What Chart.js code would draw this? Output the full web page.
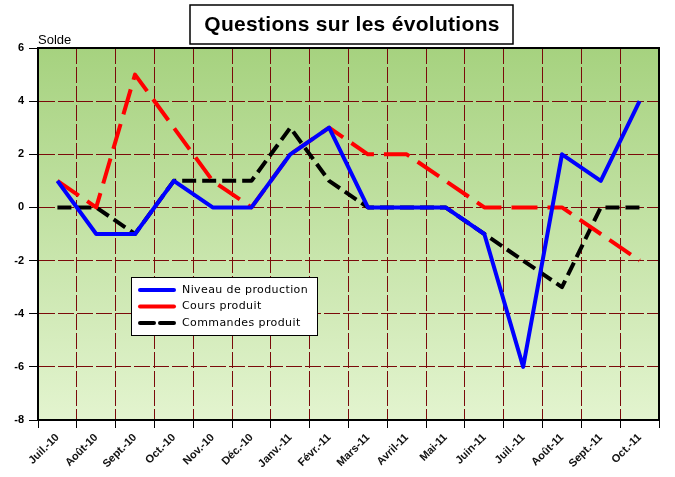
<!DOCTYPE html>
<html>
<head>
<meta charset="utf-8">
<script src="https://cdn.jsdelivr.net/npm/chart.js@4"></script>
<style>
  html, body { margin: 0; padding: 0; background: #fff; }
  #wrap { width: 675px; height: 477px; }
</style>
</head>
<body>
<div id="wrap"><canvas id="chart" width="675" height="477"></canvas></div>
<script>
// --- data ---
const months = ['Juil.-10', 'Août-10', 'Sept.-10', 'Oct.-10', 'Nov.-10', 'Déc.-10',
  'Janv.-11', 'Févr.-11', 'Mars-11', 'Avril-11', 'Mai-11', 'Juin-11',
  'Juil.-11', 'Août-11', 'Sept.-11', 'Oct.-11'];
const niveauProduction = [1, -1, -1, 1, 0, 0, 2, 3, 0, 0, 0, -1, -6, 2, 1, 4];
const coursProduit     = [1, 0, 5, 3, 1, 0, 2, 3, 2, 2, 1, 0, 0, 0, -1, -2];
const commandesProduit = [0, 0, -1, 1, 1, 1, 3, 1, 0, 0, 0, -1, -2, -3, 0, 0];
const yMin = -8, yMax = 6, yStep = 2;

const titleText = 'Questions sur les évolutions';
const yLabel = 'Solde';

// background gradient, frame, title box, "Solde" and the boxed legend
const decor = {
  id: 'decor',
  beforeDraw(chart) {
    const { ctx, chartArea: a } = chart;
    const g = ctx.createLinearGradient(0, a.top, 0, a.bottom);
    g.addColorStop(0, '#a6d27f');
    g.addColorStop(1, '#e3f4cf');
    ctx.save();
    ctx.fillStyle = g;
    ctx.fillRect(a.left, a.top, a.right - a.left, a.bottom - a.top);
    ctx.restore();
  },
  afterDraw(chart) {
    const { ctx, chartArea: a } = chart;
    ctx.save();
    // frame round the plot
    ctx.strokeStyle = '#000';
    ctx.lineWidth = 2;
    ctx.strokeRect(a.left, a.top, a.right - a.left, a.bottom - a.top);

    // title box
    ctx.fillStyle = '#fff';
    ctx.fillRect(190, 5, 323, 39);
    ctx.lineWidth = 1.5;
    ctx.strokeRect(190, 5, 323, 39);
    ctx.fillStyle = '#000';
    ctx.font = 'bold 21px "Liberation Sans", Arial, sans-serif';
    ctx.letterSpacing = '0.3px';
    ctx.textAlign = 'center';
    ctx.textBaseline = 'middle';
    ctx.fillText(titleText, 352, 25);
    ctx.letterSpacing = '0px';

    // axis name
    ctx.font = '13px "Liberation Sans", Arial, sans-serif';
    ctx.textAlign = 'left';
    ctx.fillText(yLabel, 38, 40);

    // legend
    const lx = 131, ly = 277, lw = 186, lh = 58;
    ctx.fillStyle = '#fff';
    ctx.fillRect(lx, ly, lw, lh);
    ctx.strokeStyle = '#000';
    ctx.lineWidth = 1;
    ctx.strokeRect(lx + 0.5, ly + 0.5, lw, lh);
    ctx.font = '11px "DejaVu Sans", sans-serif';
    ctx.letterSpacing = '0.4px';
    ctx.textBaseline = 'middle';
    chart.data.datasets.forEach((ds, i) => {
      const y = ly + 13 + i * 16.5;
      ctx.strokeStyle = ds.borderColor;
      ctx.lineWidth = 4;
      ctx.lineCap = 'round';
      ctx.setLineDash(i === 2 ? [14, 6] : []);
      ctx.beginPath();
      ctx.moveTo(140, y);
      ctx.lineTo(174, y);
      ctx.stroke();
      ctx.setLineDash([]);
      ctx.fillStyle = '#000';
      ctx.fillText(ds.label, 182, y);
    });
    ctx.restore();
  }
};

const gridRed = '#7a0a0a';

new Chart(document.getElementById('chart'), {
  type: 'line',
  data: {
    labels: months,
    datasets: [
      { label: 'Niveau de production', data: niveauProduction,
        borderColor: '#0000ff', borderWidth: 4 },
      { label: 'Cours produit', data: coursProduit,
        borderColor: '#ff0000', borderWidth: 4, borderDash: [26, 10] },
      { label: 'Commandes produit', data: commandesProduit,
        borderColor: '#000000', borderWidth: 4, borderDash: [14, 6] }
    ]
  },
  options: {
    responsive: false,
    animation: false,
    layout: { padding: { top: 48, right: 16, bottom: 0, left: 0 } },
    elements: {
      point: { radius: 0 },
      line: { tension: 0, borderCapStyle: 'butt', borderJoinStyle: 'round' }
    },
    plugins: {
      legend: { display: false },
      title: { display: false },
      tooltip: { enabled: false }
    },
    scales: {
      x: {
        offset: true,
        afterFit: s => { s.height = 57; },
        grid: { offset: true, color: gridRed, lineWidth: 1, tickLength: 8, tickColor: '#000' },
        border: { display: true, color: '#000', width: 2, dash: [16, 3] },
        ticks: {
          minRotation: 45, maxRotation: 45, padding: 3,
          color: '#111',
          font: { family: '"Liberation Sans", Arial, sans-serif', size: 11, weight: 'bold' }
        }
      },
      y: {
        min: yMin, max: yMax,
        afterFit: s => { s.width = 38; },
        grid: { color: gridRed, lineWidth: 1, tickLength: 9, tickColor: '#000' },
        border: { display: true, color: '#000', width: 2, dash: [16, 3] },
        ticks: {
          stepSize: yStep, padding: 5, color: '#000',
          font: { family: '"Liberation Sans", Arial, sans-serif', size: 11, weight: 'bold' }
        }
      }
    }
  },
  plugins: [decor]
});
</script>
</body>
</html>
